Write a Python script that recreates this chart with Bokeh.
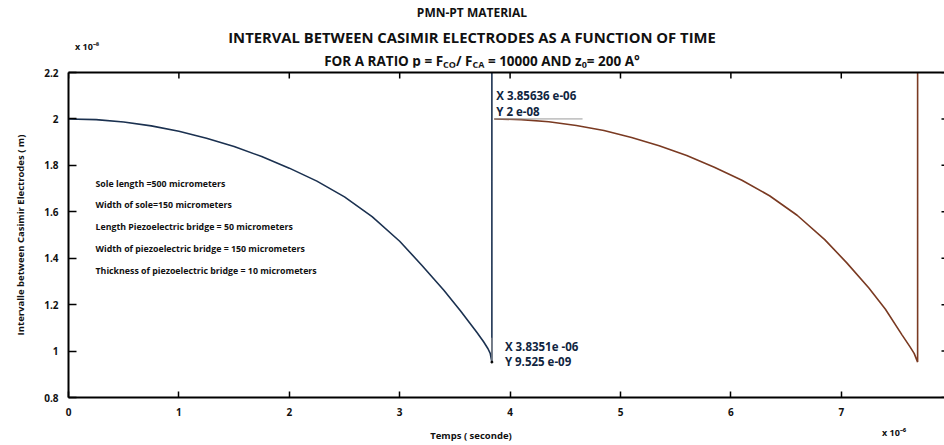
from bokeh.plotting import figure
from bokeh.models import Div, Label, LinearAxis, FixedTicker, Range1d
from bokeh.layouts import column
from bokeh.embed import file_html
from bokeh.resources import INLINE

# Time in units of 1e-6 s, electrode gap in units of 1e-8 m
T_SCALE = 1e-6
Y_SCALE = 1e-8

# First discharge cycle (reset at the end sends the gap off the top)
cycle1_t = [0.00, 0.25, 0.50, 0.75, 1.00, 1.25, 1.50, 1.75, 2.00, 2.25, 2.50,
            2.75, 3.00, 3.20, 3.40, 3.55, 3.70, 3.76, 3.80, 3.82, 3.8351, 3.8351]
cycle1_y = [2.000, 1.997, 1.987, 1.970, 1.947, 1.917, 1.881, 1.838, 1.788, 1.732,
            1.664, 1.579, 1.473, 1.370, 1.262, 1.174, 1.080, 1.040, 1.010, 0.990,
            0.9525, 2.30]

# Second cycle
cycle2_t = [3.85636, 4.10, 4.35, 4.60, 4.85, 5.10, 5.35, 5.60, 5.85, 6.10, 6.35,
            6.60, 6.85, 7.05, 7.25, 7.40, 7.55, 7.62, 7.66, 7.6915, 7.6915]
cycle2_y = [2.000, 1.997, 1.988, 1.972, 1.950, 1.920, 1.884, 1.842, 1.792, 1.736,
            1.669, 1.585, 1.480, 1.380, 1.272, 1.180, 1.070, 1.020, 0.990, 0.9525, 2.30]

# Data tips (SI units) and their printed text
tip_x = [3.85636e-06, 3.8351e-06]
tip_y = [2e-08, 9.525e-09]
tip_text_x = ["X 3.85636 e-06", "X 3.8351e -06"]
tip_text_y = ["Y 2 e-08", "Y 9.525 e-09"]

x_ticks = [0, 1, 2, 3, 4, 5, 6, 7, 8]
y_ticks = [0.8, 1.0, 1.2, 1.4, 1.6, 1.8, 2.0, 2.2]
y_tick_labels = {0.8: "0.8", 1.0: "1", 1.2: "1.2", 1.4: "1.4", 1.6: "1.6",
                 1.8: "1.8", 2.0: "2", 2.2: "2.2"}

notes = [
    "Sole length =500 micrometers",
    "Width of sole=150 micrometers",
    "Length Piezoelectric bridge = 50 micrometers",
    "Width of piezoelectric bridge = 150 micrometers",
    "Thickness of piezoelectric bridge = 10 micrometers",
]

X_MIN, X_MAX = 0, 7.935
Y_MIN, Y_MAX = 0.8, 2.2

FONT = "Open Sans"
BLUE = "#1b3150"
BROWN = "#7a3a22"
TEXT = "#111111"

SUB = "font-size:9px;vertical-align:-2px;"
header = f"""
<div style="position:relative;width:944px;height:67px;font-family:'{FONT}';font-weight:bold;color:{TEXT};">
  <div style="position:absolute;left:0;top:4px;width:944px;text-align:center;font-size:12px;line-height:18px;">PMN-PT MATERIAL</div>
  <div style="position:absolute;left:0;top:28px;width:944px;text-align:center;font-size:14.8px;line-height:18px;">INTERVAL BETWEEN CASIMIR ELECTRODES AS A FUNCTION OF TIME</div>
  <div style="position:absolute;left:10px;top:54px;width:944px;text-align:center;font-size:13.5px;line-height:14px;">FOR A RATIO p = F<span style="{SUB}">CO</span>/ F<span style="{SUB}">CA</span> = 10000 AND z<span style="{SUB}">0</span>= 200 A°</div>
  <div style="position:absolute;left:75px;top:41px;font-size:9px;line-height:12px;">x 10⁻⁸</div>
</div>
"""
top_div = Div(text=header, width=944, height=67, margin=0)

footer = f"""
<div style="position:relative;width:944px;height:21px;font-family:'{FONT}';font-weight:bold;color:{TEXT};">
  <div style="position:absolute;left:371px;top:5px;width:200px;text-align:center;font-size:9.5px;line-height:14px;">Temps ( seconde)</div>
  <div style="position:absolute;left:882px;top:3px;font-size:9px;line-height:12px;">x 10⁻⁶</div>
</div>
"""
bottom_div = Div(text=footer, width=944, height=21, margin=0)

p = figure(width=944, height=357, x_range=Range1d(X_MIN, X_MAX), y_range=Range1d(Y_MIN, Y_MAX),
           output_backend="svg", toolbar_location=None,
           min_border_left=68, min_border_right=0, min_border_top=5, min_border_bottom=27)
p.grid.visible = False
p.outline_line_color = None
p.background_fill_color = "white"
p.border_fill_color = "white"

# Bottom axis
xa = p.xaxis[0]
xa.ticker = FixedTicker(ticks=x_ticks)
xa.major_tick_in = 6
xa.major_tick_out = 0
xa.minor_tick_line_color = None
xa.axis_line_width = 2
xa.major_tick_line_width = 1.5
xa.major_label_standoff = 10
xa.major_label_text_font = FONT
xa.major_label_text_font_style = "bold"
xa.major_label_text_font_size = "10px"
xa.major_label_text_color = TEXT

# Left axis
ya = p.yaxis[0]
ya.ticker = FixedTicker(ticks=y_ticks)
ya.major_label_overrides = y_tick_labels
ya.major_tick_in = 8
ya.major_tick_out = 0
ya.minor_tick_line_color = None
ya.axis_line_width = 2
ya.major_tick_line_width = 1.5
ya.major_label_standoff = 10
ya.major_label_text_font = FONT
ya.major_label_text_font_style = "bold"
ya.major_label_text_font_size = "10px"
ya.major_label_text_color = TEXT
ya.axis_label = "Intervalle between Casimir Electrodes ( m)"
ya.axis_label_text_font = FONT
ya.axis_label_text_font_style = "bold"
ya.axis_label_text_font_size = "9.5px"
ya.axis_label_text_color = TEXT
ya.axis_label_standoff = 14

# Top edge of the box (line only)
top = LinearAxis(ticker=FixedTicker(ticks=[]), major_tick_in=0, major_tick_out=0,
                 minor_tick_line_color=None, axis_line_width=2, major_label_standoff=0)
p.add_layout(top, "above")

# Inward tick marks mirrored on the top and right edges
TOP_TICK = 6 / 232      # 6 px in y units
RIGHT_TICK = 3 / 110.4  # 3 px in x units
p.segment(x0=x_ticks, y0=[Y_MAX] * len(x_ticks), x1=x_ticks, y1=[Y_MAX - TOP_TICK] * len(x_ticks),
          line_color="black", line_width=1.5)
p.segment(x0=[X_MAX] * len(y_ticks), y0=y_ticks, x1=[X_MAX - RIGHT_TICK] * len(y_ticks), y1=y_ticks,
          line_color="black", line_width=1.5)

# Curves
p.line(cycle1_t, cycle1_y, line_color=BLUE, line_width=1.6)
p.line(cycle2_t, cycle2_y, line_color=BROWN, line_width=1.6)

# Data tips
tx = [v / T_SCALE for v in tip_x]
ty = [v / Y_SCALE for v in tip_y]
p.segment(x0=[tx[0]], y0=[ty[0]], x1=[tx[0] + 0.8], y1=[ty[0]], line_color="#9a9a9a", line_width=1)
p.segment(x0=[tx[1]], y0=[ty[1]], x1=[tx[1]], y1=[ty[1] + 0.105], line_color="#9a9a9a", line_width=1)
p.scatter([tx[1]], [ty[1]], size=2, color="black")

tip_style = dict(text_font=FONT, text_font_style="bold", text_font_size="11.5px",
                 text_color="#10253f", text_baseline="middle", text_align="left")
p.add_layout(Label(x=tx[0], y=ty[0], x_offset=2, y_offset=23, text=tip_text_x[0], **tip_style))
p.add_layout(Label(x=tx[0], y=ty[0], x_offset=2, y_offset=7, text=tip_text_y[0], **tip_style))
p.add_layout(Label(x=tx[1], y=ty[1], x_offset=13, y_offset=16, text=tip_text_x[1], **tip_style))
p.add_layout(Label(x=tx[1], y=ty[1], x_offset=13, y_offset=1, text=tip_text_y[1], **tip_style))

# Geometry notes
for i, s in enumerate(notes):
    p.add_layout(Label(x=27, y=214 - 21.8 * i, x_units="screen", y_units="screen", text=s,
                       text_font=FONT, text_font_style="bold", text_font_size="8.8px",
                       text_color=TEXT, text_baseline="middle", text_align="left"))

layout = column(top_div, p, bottom_div, spacing=0)
open("out.html", "w").write(file_html(layout, INLINE))
